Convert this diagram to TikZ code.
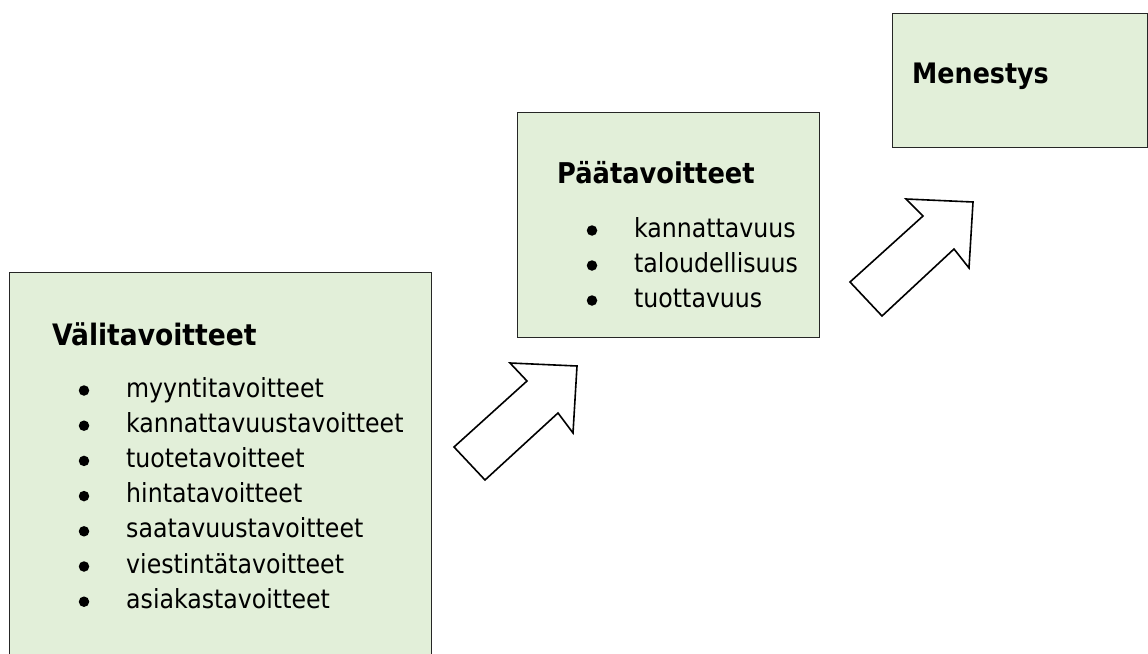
\documentclass[tikz,border=0pt]{standalone}
\usepackage{fontspec}
\setmainfont{DejaVu Sans Condensed}
\definecolor{boxgreen}{HTML}{E2EFD9}
\definecolor{boxline}{HTML}{262626}
\begin{document}
\begin{tikzpicture}[x=1pt,y=-1pt,
  box/.style={draw=boxline, fill=boxgreen, line width=1pt, anchor=north west, inner sep=0pt},
  ttl/.style={anchor=base west, inner sep=0pt, font=\fontsize{29.5}{36}\selectfont\bfseries},
  itm/.style={anchor=base west, inner sep=0pt, font=\fontsize{26.3}{32}\selectfont},
  bul/.style={circle, fill=black, inner sep=0pt, minimum size=10.5pt},
  blockarrow/.style={draw=black, fill=white, line width=1.6pt, line join=miter}]
\useasboundingbox (0,0) rectangle (1148,653);
\fill[white] (0,0) rectangle (1148,653);
\clip (0,0) rectangle (1148,653);

% boxes
\node[box, minimum width=422pt, minimum height=400pt] (vali) at (9,272) {};
\node[box, minimum width=302pt, minimum height=225pt] (paa) at (517,112) {};
\node[box, minimum width=255pt, minimum height=134pt] (men) at (892,13) {};

% titles
\node[ttl] (valiT) at (52,345) {Välitavoitteet};
\node[ttl, font=\fontsize{28.6}{36}\selectfont\bfseries] (paaT) at (557,183) {Päätavoitteet};
\node[ttl, font=\fontsize{28.2}{36}\selectfont\bfseries] (menT) at (912,83) {Menestys};

% items box 1
\foreach \t [count=\i from 0] in {myyntitavoitteet,kannattavuustavoitteet,tuotetavoitteet,hintatavoitteet,saatavuustavoitteet,viestintätavoitteet,asiakastavoitteet}{
  \node[itm] (v\i) at (126,397+35.2*\i) {\t};
  \node[bul] (vb\i) at (84,390.5+35.2*\i) {};
}
% items box 2
\foreach \t [count=\i from 0] in {kannattavuus,taloudellisuus,tuottavuus}{
  \node[itm] (p\i) at (634,237+35*\i) {\t};
  \node[bul] (pb\i) at (592,230.5+35*\i) {};
}

% block arrows
\draw[blockarrow] (485,480) -- (454,447) -- (527,381) -- (510,363) -- (577,366) -- (573,433) -- (558,413) -- cycle;
\draw[blockarrow] (882,316) -- (850,282) -- (923,216) -- (906,199) -- (973,202) -- (969,268) -- (954,249) -- cycle;
\end{tikzpicture}
\end{document}
